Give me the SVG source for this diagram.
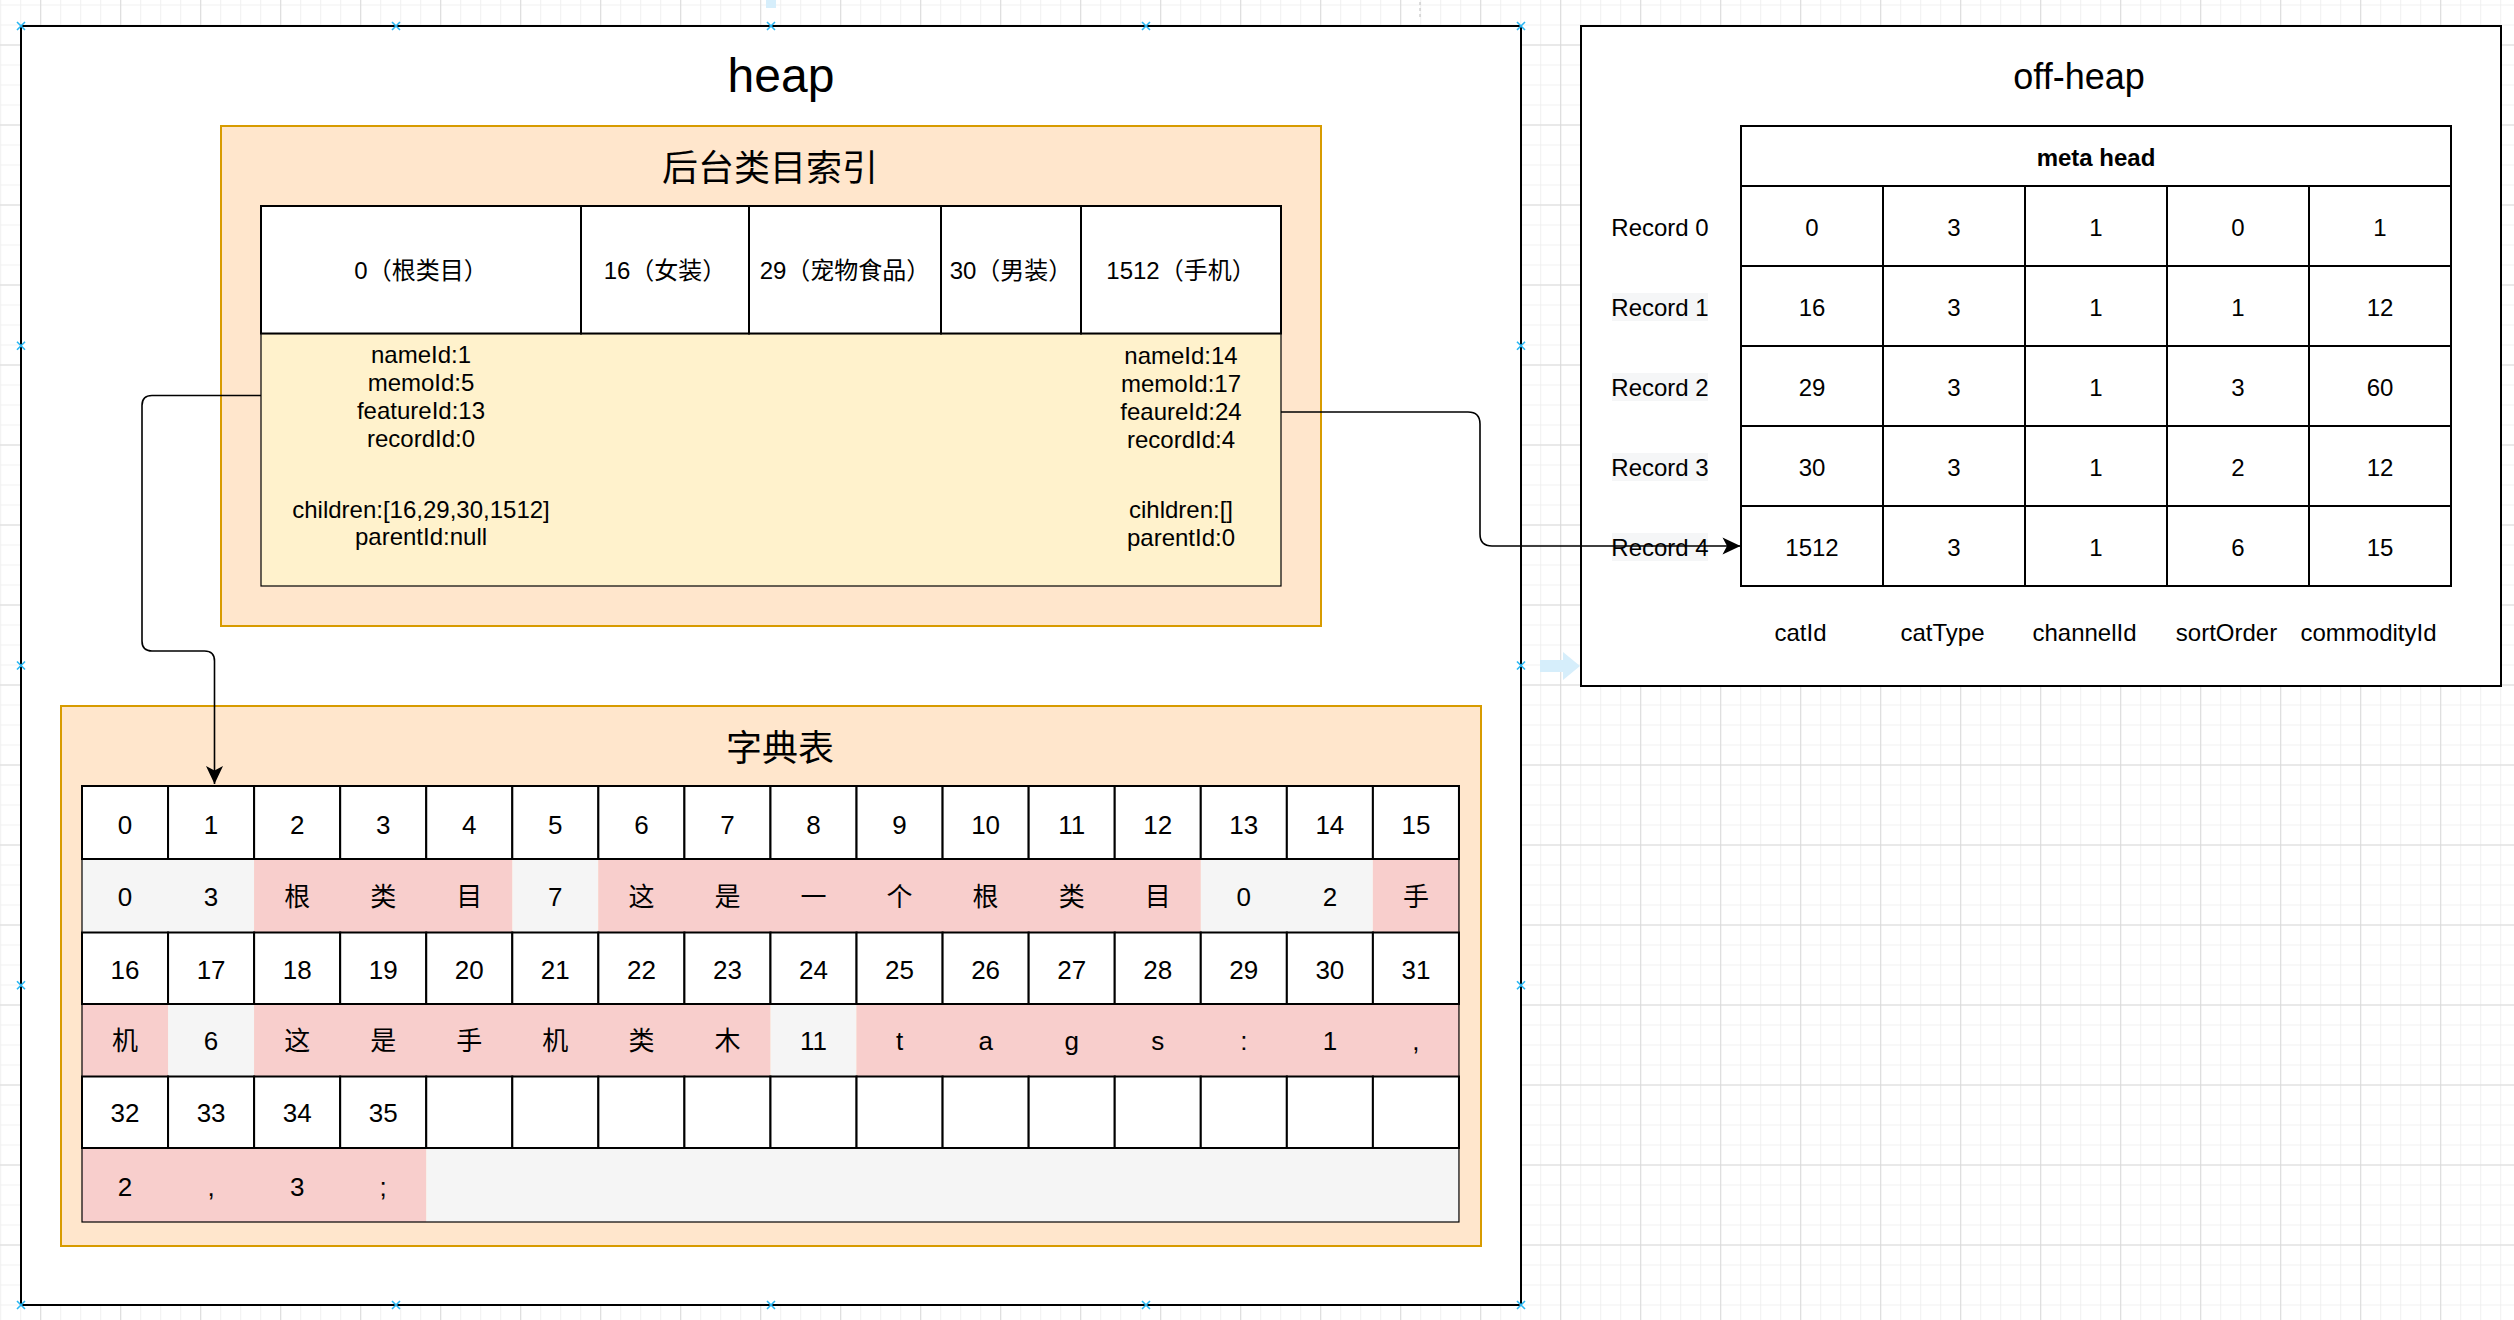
<svg xmlns="http://www.w3.org/2000/svg" xmlns:xlink="http://www.w3.org/1999/xlink" width="2514" height="1320" viewBox="0 0 2514 1320">
<style>
text{font-family:"Liberation Sans","Noto Sans CJK SC",sans-serif;fill:#000;text-anchor:middle}
.t24{font-size:24px}
.t26{font-size:26px}
.t36{font-size:36px}
.b{font-weight:bold}
.box{fill:#fff;stroke:#000;stroke-width:2}
.thin{fill:none;stroke:#000;stroke-width:1.2}
.cell{fill:#fff;stroke:#000;stroke-width:2}
.panel{fill:#ffe6cc;stroke:#d79b00;stroke-width:2}
.pk{fill:#f8cecc}
.gy{fill:#f5f5f5}
.conn{fill:none;stroke:#000;stroke-width:1.6}
</style>
<defs>
<pattern id="gmin" width="20" height="20" patternUnits="userSpaceOnUse" x="0.2" y="4.5"><path d="M0 0.5H20M0.5 0V20" stroke="#f0f0f0" stroke-width="1" fill="none"/></pattern>
<pattern id="gmaj" width="80" height="80" patternUnits="userSpaceOnUse" x="40.2" y="44.5"><path d="M0 0.5H80M0.5 0V80" stroke="#dadada" stroke-width="1" fill="none"/></pattern>
<path id="mk" d="M-4-4L4 4M-4 4L4-4" stroke="#29b6f2" stroke-width="1.6" fill="none"/>
<marker id="arr" viewBox="0 0 20 18" refX="19" refY="9" markerWidth="20" markerHeight="18" markerUnits="userSpaceOnUse" orient="auto"><path d="M19 9L1 0.5L5.5 9L1 17.5Z" fill="#000"/></marker>
</defs>
<rect width="2514" height="1320" fill="#fff"/>
<rect width="2514" height="1320" fill="url(#gmin)"/>
<rect width="2514" height="1320" fill="url(#gmaj)"/>

<g id="ui-traces">
<rect x="766" y="0" width="10" height="8" fill="#d6eefb"/>
<path d="M1420 2V19" stroke="#bbbbbb" stroke-width="1" stroke-dasharray="3 3"/>
<path d="M1540 660H1563V652L1580 666L1563 680V672H1540Z" fill="#d6eefb"/>
</g>

<g id="heap">
<rect class="box" x="21" y="26" width="1500" height="1279"/>
<text x="781" y="92" style="font-size:48px">heap</text>
</g>

<g id="category-index">
<rect class="panel" x="221" y="126" width="1100" height="500"/>
<text class="t36" x="770" y="181">后台类目索引</text>
<rect x="261" y="333.5" width="1020" height="252.5" fill="#fff2cc" stroke="#000" stroke-width="1.2"/>
<rect class="cell" x="261" y="206" width="320" height="127.5"/>
<rect class="cell" x="581" y="206" width="168" height="127.5"/>
<rect class="cell" x="749" y="206" width="192" height="127.5"/>
<rect class="cell" x="941" y="206" width="140" height="127.5"/>
<rect class="cell" x="1081" y="206" width="200" height="127.5"/>
<text class="t24" x="421" y="279">0（根类目）</text>
<text class="t24" x="665" y="279">16（女装）</text>
<text class="t24" x="845" y="279">29（宠物食品）</text>
<text class="t24" x="1011" y="279">30（男装）</text>
<text class="t24" x="1181" y="279">1512（手机）</text>
<text class="t24" x="421" y="363">nameId:1</text>
<text class="t24" x="421" y="391">memoId:5</text>
<text class="t24" x="421" y="419">featureId:13</text>
<text class="t24" x="421" y="447">recordId:0</text>
<text class="t24" x="421" y="517.5">children:[16,29,30,1512]</text>
<text class="t24" x="421" y="545">parentId:null</text>
<text class="t24" x="1181" y="363.5">nameId:14</text>
<text class="t24" x="1181" y="391.5">memoId:17</text>
<text class="t24" x="1181" y="419.5">feaureId:24</text>
<text class="t24" x="1181" y="447.5">recordId:4</text>
<text class="t24" x="1181" y="518">cihldren:[]</text>
<text class="t24" x="1181" y="546">parentId:0</text>
</g>

<g id="dictionary">
<rect class="panel" x="61" y="706" width="1420" height="540"/>
<text class="t36" x="780" y="761">字典表</text>
<g id="dict-values">
<rect class="gy" x="82" y="859" width="172.12" height="73.5"/>
<rect class="pk" x="254.12" y="859" width="258.18" height="73.5"/>
<rect class="gy" x="512.3" y="859" width="86.06" height="73.5"/>
<rect class="pk" x="598.36" y="859" width="602.42" height="73.5"/>
<rect class="gy" x="1200.78" y="859" width="172.12" height="73.5"/>
<rect class="pk" x="1372.9" y="859" width="86.06" height="73.5"/>
<rect class="pk" x="82" y="1004" width="86.06" height="72.5"/>
<rect class="gy" x="168.06" y="1004" width="86.06" height="72.5"/>
<rect class="pk" x="254.12" y="1004" width="516.36" height="72.5"/>
<rect class="gy" x="770.48" y="1004" width="86.06" height="72.5"/>
<rect class="pk" x="856.54" y="1004" width="602.42" height="72.5"/>
<rect class="pk" x="82" y="1148" width="344.24" height="74"/>
<rect class="gy" x="426.24" y="1148" width="1032.72" height="74"/>
</g>
<g id="dict-index">
<rect class="cell" x="82" y="786" width="86.06" height="73"/><rect class="cell" x="168.06" y="786" width="86.06" height="73"/><rect class="cell" x="254.12" y="786" width="86.06" height="73"/><rect class="cell" x="340.18" y="786" width="86.06" height="73"/><rect class="cell" x="426.24" y="786" width="86.06" height="73"/><rect class="cell" x="512.3" y="786" width="86.06" height="73"/><rect class="cell" x="598.36" y="786" width="86.06" height="73"/><rect class="cell" x="684.42" y="786" width="86.06" height="73"/><rect class="cell" x="770.48" y="786" width="86.06" height="73"/><rect class="cell" x="856.54" y="786" width="86.06" height="73"/><rect class="cell" x="942.6" y="786" width="86.06" height="73"/><rect class="cell" x="1028.66" y="786" width="86.06" height="73"/><rect class="cell" x="1114.72" y="786" width="86.06" height="73"/><rect class="cell" x="1200.78" y="786" width="86.06" height="73"/><rect class="cell" x="1286.84" y="786" width="86.06" height="73"/><rect class="cell" x="1372.9" y="786" width="86.06" height="73"/>
<rect class="cell" x="82" y="932.5" width="86.06" height="71.5"/><rect class="cell" x="168.06" y="932.5" width="86.06" height="71.5"/><rect class="cell" x="254.12" y="932.5" width="86.06" height="71.5"/><rect class="cell" x="340.18" y="932.5" width="86.06" height="71.5"/><rect class="cell" x="426.24" y="932.5" width="86.06" height="71.5"/><rect class="cell" x="512.3" y="932.5" width="86.06" height="71.5"/><rect class="cell" x="598.36" y="932.5" width="86.06" height="71.5"/><rect class="cell" x="684.42" y="932.5" width="86.06" height="71.5"/><rect class="cell" x="770.48" y="932.5" width="86.06" height="71.5"/><rect class="cell" x="856.54" y="932.5" width="86.06" height="71.5"/><rect class="cell" x="942.6" y="932.5" width="86.06" height="71.5"/><rect class="cell" x="1028.66" y="932.5" width="86.06" height="71.5"/><rect class="cell" x="1114.72" y="932.5" width="86.06" height="71.5"/><rect class="cell" x="1200.78" y="932.5" width="86.06" height="71.5"/><rect class="cell" x="1286.84" y="932.5" width="86.06" height="71.5"/><rect class="cell" x="1372.9" y="932.5" width="86.06" height="71.5"/>
<rect class="cell" x="82" y="1076.5" width="86.06" height="71.5"/><rect class="cell" x="168.06" y="1076.5" width="86.06" height="71.5"/><rect class="cell" x="254.12" y="1076.5" width="86.06" height="71.5"/><rect class="cell" x="340.18" y="1076.5" width="86.06" height="71.5"/><rect class="cell" x="426.24" y="1076.5" width="86.06" height="71.5"/><rect class="cell" x="512.3" y="1076.5" width="86.06" height="71.5"/><rect class="cell" x="598.36" y="1076.5" width="86.06" height="71.5"/><rect class="cell" x="684.42" y="1076.5" width="86.06" height="71.5"/><rect class="cell" x="770.48" y="1076.5" width="86.06" height="71.5"/><rect class="cell" x="856.54" y="1076.5" width="86.06" height="71.5"/><rect class="cell" x="942.6" y="1076.5" width="86.06" height="71.5"/><rect class="cell" x="1028.66" y="1076.5" width="86.06" height="71.5"/><rect class="cell" x="1114.72" y="1076.5" width="86.06" height="71.5"/><rect class="cell" x="1200.78" y="1076.5" width="86.06" height="71.5"/><rect class="cell" x="1286.84" y="1076.5" width="86.06" height="71.5"/><rect class="cell" x="1372.9" y="1076.5" width="86.06" height="71.5"/>
</g>
<rect class="thin" x="82" y="786" width="1376.96" height="436"/>
<g id="dict-text" class="t26">
<text x="125.03" y="834">0</text><text x="211.09" y="834">1</text><text x="297.15" y="834">2</text><text x="383.21" y="834">3</text><text x="469.27" y="834">4</text><text x="555.33" y="834">5</text><text x="641.39" y="834">6</text><text x="727.45" y="834">7</text><text x="813.51" y="834">8</text><text x="899.57" y="834">9</text><text x="985.63" y="834">10</text><text x="1071.69" y="834">11</text><text x="1157.75" y="834">12</text><text x="1243.81" y="834">13</text><text x="1329.87" y="834">14</text><text x="1415.93" y="834">15</text>
<text x="125.03" y="905.5">0</text><text x="211.09" y="905.5">3</text><text x="297.15" y="905.5">根</text><text x="383.21" y="905.5">类</text><text x="469.27" y="905.5">目</text><text x="555.33" y="905.5">7</text><text x="641.39" y="905.5">这</text><text x="727.45" y="905.5">是</text><text x="813.51" y="905.5">一</text><text x="899.57" y="905.5">个</text><text x="985.63" y="905.5">根</text><text x="1071.69" y="905.5">类</text><text x="1157.75" y="905.5">目</text><text x="1243.81" y="905.5">0</text><text x="1329.87" y="905.5">2</text><text x="1415.93" y="905.5">手</text>
<text x="125.03" y="978.5">16</text><text x="211.09" y="978.5">17</text><text x="297.15" y="978.5">18</text><text x="383.21" y="978.5">19</text><text x="469.27" y="978.5">20</text><text x="555.33" y="978.5">21</text><text x="641.39" y="978.5">22</text><text x="727.45" y="978.5">23</text><text x="813.51" y="978.5">24</text><text x="899.57" y="978.5">25</text><text x="985.63" y="978.5">26</text><text x="1071.69" y="978.5">27</text><text x="1157.75" y="978.5">28</text><text x="1243.81" y="978.5">29</text><text x="1329.87" y="978.5">30</text><text x="1415.93" y="978.5">31</text>
<text x="125.03" y="1050">机</text><text x="211.09" y="1050">6</text><text x="297.15" y="1050">这</text><text x="383.21" y="1050">是</text><text x="469.27" y="1050">手</text><text x="555.33" y="1050">机</text><text x="641.39" y="1050">类</text><text x="727.45" y="1050">木</text><text x="813.51" y="1050">11</text><text x="899.57" y="1050">t</text><text x="985.63" y="1050">a</text><text x="1071.69" y="1050">g</text><text x="1157.75" y="1050">s</text><text x="1243.81" y="1050">:</text><text x="1329.87" y="1050">1</text><text x="1415.93" y="1050">,</text>
<text x="125.03" y="1122">32</text><text x="211.09" y="1122">33</text><text x="297.15" y="1122">34</text><text x="383.21" y="1122">35</text>
<text x="125.03" y="1196">2</text><text x="211.09" y="1196">,</text><text x="297.15" y="1196">3</text><text x="383.21" y="1196">;</text>
</g>
</g>

<g id="off-heap">
<rect class="box" x="1581" y="26" width="920" height="660"/>
<text class="t36" x="2079" y="89">off-heap</text>
<g id="meta-table">
<rect class="cell" x="1741" y="126" width="710" height="60"/>
<text class="t24 b" x="2096" y="165.5">meta head</text>
<g id="rows">
<rect class="cell" x="1741" y="186" width="142" height="80"/><rect class="cell" x="1883" y="186" width="142" height="80"/><rect class="cell" x="2025" y="186" width="142" height="80"/><rect class="cell" x="2167" y="186" width="142" height="80"/><rect class="cell" x="2309" y="186" width="142" height="80"/>
<rect class="cell" x="1741" y="266" width="142" height="80"/><rect class="cell" x="1883" y="266" width="142" height="80"/><rect class="cell" x="2025" y="266" width="142" height="80"/><rect class="cell" x="2167" y="266" width="142" height="80"/><rect class="cell" x="2309" y="266" width="142" height="80"/>
<rect class="cell" x="1741" y="346" width="142" height="80"/><rect class="cell" x="1883" y="346" width="142" height="80"/><rect class="cell" x="2025" y="346" width="142" height="80"/><rect class="cell" x="2167" y="346" width="142" height="80"/><rect class="cell" x="2309" y="346" width="142" height="80"/>
<rect class="cell" x="1741" y="426" width="142" height="80"/><rect class="cell" x="1883" y="426" width="142" height="80"/><rect class="cell" x="2025" y="426" width="142" height="80"/><rect class="cell" x="2167" y="426" width="142" height="80"/><rect class="cell" x="2309" y="426" width="142" height="80"/>
<rect class="cell" x="1741" y="506" width="142" height="80"/><rect class="cell" x="1883" y="506" width="142" height="80"/><rect class="cell" x="2025" y="506" width="142" height="80"/><rect class="cell" x="2167" y="506" width="142" height="80"/><rect class="cell" x="2309" y="506" width="142" height="80"/>
</g>
<g class="t24">
<text x="1812" y="235.5">0</text><text x="1954" y="235.5">3</text><text x="2096" y="235.5">1</text><text x="2238" y="235.5">0</text><text x="2380" y="235.5">1</text>
<text x="1812" y="315.5">16</text><text x="1954" y="315.5">3</text><text x="2096" y="315.5">1</text><text x="2238" y="315.5">1</text><text x="2380" y="315.5">12</text>
<text x="1812" y="395.5">29</text><text x="1954" y="395.5">3</text><text x="2096" y="395.5">1</text><text x="2238" y="395.5">3</text><text x="2380" y="395.5">60</text>
<text x="1812" y="475.5">30</text><text x="1954" y="475.5">3</text><text x="2096" y="475.5">1</text><text x="2238" y="475.5">2</text><text x="2380" y="475.5">12</text>
<text x="1812" y="555.5">1512</text><text x="1954" y="555.5">3</text><text x="2096" y="555.5">1</text><text x="2238" y="555.5">6</text><text x="2380" y="555.5">15</text>
<text x="1800.5" y="641">catId</text><text x="1942.5" y="641">catType</text><text x="2084.5" y="641">channelId</text><text x="2226.5" y="641">sortOrder</text><text x="2368.5" y="641">commodityId</text>
</g>
</g>
<g id="record-labels" class="t24">
<rect x="1612" y="293" width="96" height="28" fill="#f5f6f7"/>
<rect x="1612" y="373" width="96" height="28" fill="#f5f6f7"/>
<rect x="1612" y="453" width="96" height="28" fill="#f5f6f7"/>
<rect x="1612" y="533" width="96" height="28" fill="#f5f6f7"/>
<text x="1660" y="235.5">Record 0</text>
<text x="1660" y="315.5">Record 1</text>
<text x="1660" y="395.5">Record 2</text>
<text x="1660" y="475.5">Record 3</text>
<text x="1660" y="555.5">Record 4</text>
</g>
</g>

<g id="connectors">
<path class="conn" d="M261 395.5H152Q142 395.5 142 405.5V641Q142 651 152 651H204.5Q214.5 651 214.5 661V784" marker-end="url(#arr)"/>
<path class="conn" d="M1281 412H1468Q1480 412 1480 424V534Q1480 546 1492 546H1740.5" marker-end="url(#arr)"/>
</g>

<g id="handles">
<use href="#mk" x="21" y="26"/><use href="#mk" x="396" y="26"/><use href="#mk" x="771" y="26"/><use href="#mk" x="1146" y="26"/><use href="#mk" x="1521" y="26"/>
<use href="#mk" x="21" y="1305"/><use href="#mk" x="396" y="1305"/><use href="#mk" x="771" y="1305"/><use href="#mk" x="1146" y="1305"/><use href="#mk" x="1521" y="1305"/>
<use href="#mk" x="21" y="345.75"/><use href="#mk" x="21" y="665.5"/><use href="#mk" x="21" y="985.25"/>
<use href="#mk" x="1521" y="345.75"/><use href="#mk" x="1521" y="665.5"/><use href="#mk" x="1521" y="985.25"/>
</g>
</svg>
